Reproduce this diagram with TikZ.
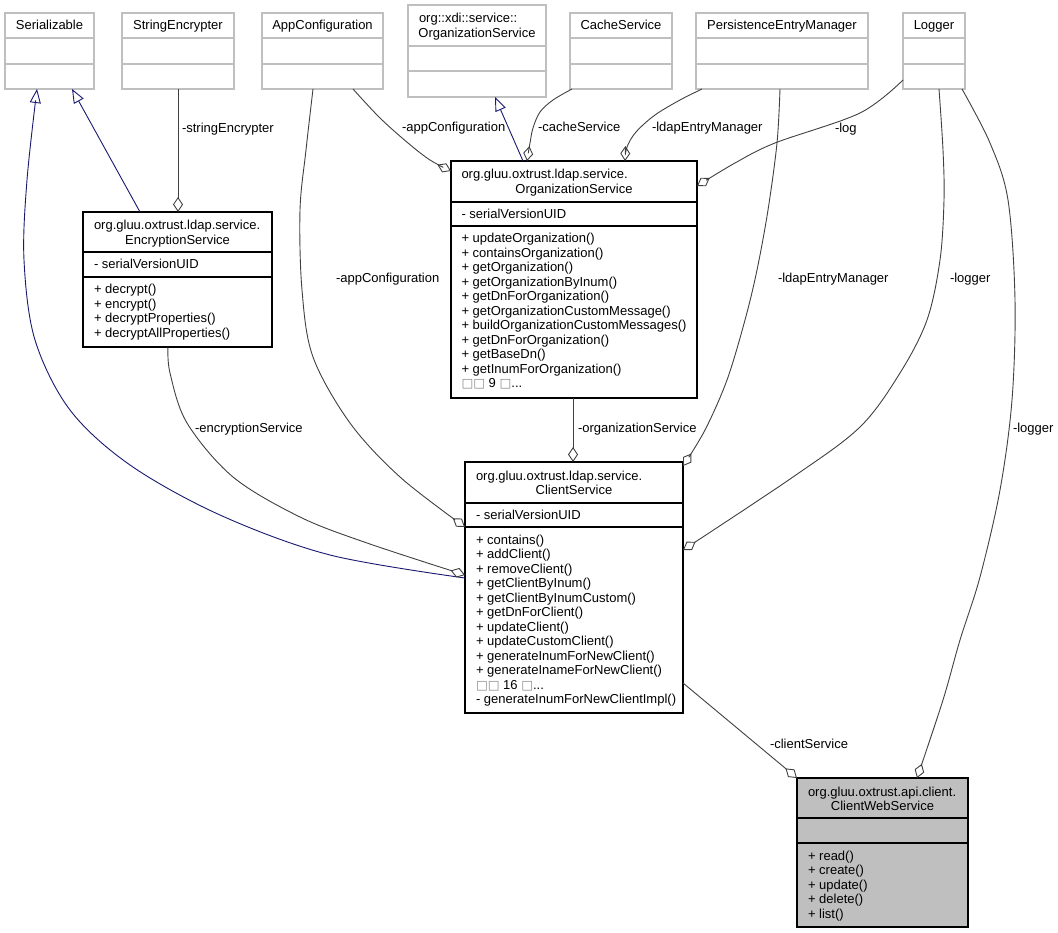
\documentclass[tikz,border=0pt]{standalone}
\usepackage{fontspec}
\setmainfont{Liberation Sans}
\newfontfamily\dejavu{DejaVu Sans}
\usetikzlibrary{arrows.meta}
\definecolor{extgray}{HTML}{BFBFBF}
\definecolor{linegray}{HTML}{404040}
\definecolor{navyline}{HTML}{191970}
\definecolor{cwsfill}{HTML}{BFBFBF}
\definecolor{boxgray}{HTML}{8A8A8A}
\newcommand\fs{\fontsize{13}{14.5}\selectfont}
\newcommand\mbx{{\dejavu\fontsize{12.5}{12.5}\selectfont\textcolor{boxgray}{□}}}
\newcommand\tdots{...}
\tikzset{
  every node/.style={inner sep=0pt, outer sep=0pt},
  txt/.style={font=\fs, text=black},
  lbl/.style={font=\fs, text=black, anchor=base west},
  cbox/.style={draw=black, line width=1.1pt, fill=white, anchor=north west, rectangle},
  ebox/.style={cbox, draw=extgray},
  csep/.style={draw=black, line width=1.1pt},
  esep/.style={draw=extgray, line width=1.1pt},
  agg/.style={draw=linegray, line width=0.9pt, -{Diamond[open, length=15pt, width=10pt]}},
  inh/.style={draw=navyline, line width=0.9pt, -{Triangle[open, length=14pt, width=11pt]}},
  curve/.style={smooth, tension=0.55}
}
\newcommand\extbox[5]{%
  \node[ebox, minimum width=#4pt, minimum height=76pt] (#1) at (#2,#3) {};
  \draw[esep] (#1.west |- 0,38) -- (#1.east |- 0,38);
  \draw[esep] (#1.west |- 0,64) -- (#1.east |- 0,64);
  \node[txt, anchor=base] (#1-h) at (#1.north |- 0,30) {#5};
}
\begin{document}
\begin{tikzpicture}[x=1pt,y=-1pt]
\useasboundingbox (0,0) rectangle (1058,933);

% ---- external classes (top row)
\extbox{ser}{5}{13}{89}{Serializable}
\extbox{senc}{122}{13}{112}{StringEncrypter}
\extbox{appc}{262}{13}{121}{AppConfiguration}
\extbox{cache}{570}{13}{102}{CacheService}
\extbox{pem}{696}{13}{172}{PersistenceEntryManager}
\extbox{logger}{903}{13}{62}{Logger}

\node[ebox, minimum width=138pt, minimum height=92pt] (xdi) at (408,5) {};
\draw[esep] (xdi.west |- 0,46) -- (xdi.east |- 0,46);
\draw[esep] (xdi.west |- 0,71) -- (xdi.east |- 0,71);
\node[txt, anchor=base west] (xdi-h1) at (419,23) {org::xdi::service::};
\node[txt, anchor=base] (xdi-h2) at (477,37.5) {OrganizationService};

% ---- EncryptionService
\node[cbox, minimum width=189pt, minimum height=135pt] (encs) at (83,212) {};
\draw[csep] (encs.west |- 0,252) -- (encs.east |- 0,252);
\draw[csep] (encs.west |- 0,277) -- (encs.east |- 0,277);
\node[txt, anchor=base west] (encs-h1) at (94,230) {org.gluu.oxtrust.ldap.service.};
\node[txt, anchor=base] (encs-h2) at (177.5,244.5) {EncryptionService};
\node[txt, anchor=base west] (encs-a) at (94,268.5) {- serialVersionUID};
\foreach \t [count=\i from 0] in {+ decrypt(), + encrypt(), + decryptProperties(), + decryptAllProperties()}
  \node[txt, anchor=base west] (encs-m\i) at (94,294+14.5*\i) {\t};

% ---- ldap OrganizationService
\node[cbox, minimum width=246pt, minimum height=237pt] (orgs) at (451,161) {};
\draw[csep] (orgs.west |- 0,202) -- (orgs.east |- 0,202);
\draw[csep] (orgs.west |- 0,226) -- (orgs.east |- 0,226);
\node[txt, anchor=base west] (orgs-h1) at (461.5,179) {org.gluu.oxtrust.ldap.service.};
\node[txt, anchor=base] (orgs-h2) at (574,193.5) {OrganizationService};
\node[txt, anchor=base west] (orgs-a) at (461.5,218.5) {- serialVersionUID};
\foreach \t [count=\i from 0] in {+ updateOrganization(), + containsOrganization(), + getOrganization(), + getOrganizationByInum(), + getDnForOrganization(), + getOrganizationCustomMessage(), + buildOrganizationCustomMessages(), + getDnForOrganization(), + getBaseDn(), + getInumForOrganization(), \mbx\mbx{} 9 \mbx\tdots}
  \node[txt, anchor=base west] (orgs-m\i) at (461.5,243+14.5*\i) {\t};

% ---- ClientService
\node[cbox, minimum width=218pt, minimum height=251pt] (cs) at (465,462) {};
\draw[csep] (cs.west |- 0,503) -- (cs.east |- 0,503);
\draw[csep] (cs.west |- 0,527) -- (cs.east |- 0,527);
\node[txt, anchor=base west] (cs-h1) at (476,480) {org.gluu.oxtrust.ldap.service.};
\node[txt, anchor=base] (cs-h2) at (574,494.5) {ClientService};
\node[txt, anchor=base west] (cs-a) at (476,519.5) {- serialVersionUID};
\foreach \t [count=\i from 0] in {+ contains(), + addClient(), + removeClient(), + getClientByInum(), + getClientByInumCustom(), + getDnForClient(), + updateClient(), + updateCustomClient(), + generateInumForNewClient(), + generateInameForNewClient(), \mbx\mbx{} 16 \mbx\tdots, - generateInumForNewClientImpl()}
  \node[txt, anchor=base west] (cs-m\i) at (476,544+14.5*\i) {\t};

% ---- ClientWebService
\node[cbox, fill=cwsfill, minimum width=171pt, minimum height=149pt] (cws) at (797,778) {};
\draw[csep] (cws.west |- 0,818) -- (cws.east |- 0,818);
\draw[csep] (cws.west |- 0,843) -- (cws.east |- 0,843);
\node[txt, anchor=base west] (cws-h1) at (808,796) {org.gluu.oxtrust.api.client.};
\node[txt, anchor=base] (cws-h2) at (882.5,810.5) {ClientWebService};
\foreach \t [count=\i from 0] in {+ read(), + create(), + update(), + delete(), + list()}
  \node[txt, anchor=base west] (cws-m\i) at (808,860+14.5*\i) {\t};

% ---- connector end points on the boxes
\coordinate (e1s) at ([xshift=57pt]encs.north west);
\coordinate (e1e) at ([xshift=67pt]ser.south west);
\coordinate (e2s) at ([yshift=-116pt]cs.north west);
\coordinate (e2e) at ([xshift=32pt]ser.south west);
\coordinate (e3s) at ([xshift=72pt]orgs.north west);
\coordinate (e3e) at ([xshift=87pt]xdi.south west);
\coordinate (a5s) at ([xshift=91pt]appc.south west);
\coordinate (a5e) at ([yshift=-10pt]orgs.north west);
\coordinate (a6s) at ([xshift=2pt]cache.south west);
\coordinate (a6e) at ([xshift=76pt]orgs.north west);
\coordinate (a7s) at ([xshift=6pt]pem.south west);
\coordinate (a7e) at ([xshift=174pt]orgs.north west);
\coordinate (a8s) at ([yshift=-67pt]logger.north west);
\coordinate (a8e) at ([yshift=-25pt]orgs.north east);
\coordinate (a9s) at ([xshift=84pt]pem.south west);
\coordinate (a9e) at ([yshift=-4pt]cs.north east);
\coordinate (a10s) at ([xshift=36pt]logger.south west);
\coordinate (a10e) at ([yshift=-88pt]cs.north east);
\coordinate (a11s) at ([xshift=59pt]logger.south west);
\coordinate (a11e) at ([xshift=120pt]cws.north west);
\coordinate (a12s) at ([yshift=-221pt]cs.north east);
\coordinate (a13s) at ([xshift=122pt]orgs.south west);
\coordinate (a13e) at ([xshift=108pt]cs.north west);
\coordinate (a14s) at ([xshift=51pt]appc.south west);
\coordinate (a14e) at ([yshift=-65pt]cs.north west);
\coordinate (a15s) at ([xshift=85pt]encs.south west);
\coordinate (a15e) at ([yshift=-113pt]cs.north west);

% ---- inheritance
\draw[inh] (e1s) -- (e1e);
\draw[inh] plot[curve] coordinates {(e2s) (330,555) (220,515) (130,465) (70,410) (35,340) (24,260) (27,180) (e2e)};
\draw[inh] (e3s) -- (e3e);

% ---- associations
\draw[agg] (senc.south) -- (senc.south |- encs.north);
\draw[agg] plot[curve] coordinates {(a5s) (380,118) (408,143) (430,160) (a5e)};
\draw[agg] plot[curve] coordinates {(a6s) (553,100) (540,112) (533,128) (530,143) (a6e)};
\draw[agg] plot[curve] coordinates {(a7s) (680,100) (655,115) (636,132) (627,147) (a7e)};
\draw[agg] plot[curve] coordinates {(a8s) (860,113) (775,143) (735,163) (a8e)};
\draw[agg] plot[curve] coordinates {(a9s) (777,143) (768,210) (757,270) (745,320) (727,380) (705,430) (a9e)};
\draw[agg] plot[curve] coordinates {(a10s) (943,150) (944,200) (940,260) (927,320) (900,373) (860,427) (793,477) (a10e)};
\draw[agg] plot[curve] coordinates {(a11s) (990,143) (1008,200) (1015,300) (1012,400) (1000,490) (980,577) (960,640) (943,700) (a11e)};
\draw[agg] (a12s) -- (cws.north west);
\draw[agg] (a13s) -- (a13e);
\draw[agg] plot[curve] coordinates {(a14s) (306,150) (300,210) (302,290) (313,357) (350,423) (400,477) (a14e)};
\draw[agg] plot[curve] coordinates {(a15s) (170,373) (187,423) (233,477) (300,517) (367,543) (a15e)};

% ---- labels
\node[lbl] (l-se) at (182,132.5) {-stringEncrypter};
\node[lbl] (l-ac1) at (402,131.5) {-appConfiguration};
\node[lbl] (l-cache) at (538,131.5) {-cacheService};
\node[lbl] (l-pem1) at (652,131.5) {-ldapEntryManager};
\node[lbl] (l-log) at (835,132.5) {-log};
\node[lbl] (l-ac2) at (336,282.5) {-appConfiguration};
\node[lbl] (l-pem2) at (778,282.5) {-ldapEntryManager};
\node[lbl] (l-lg1) at (950,282.5) {-logger};
\node[lbl] (l-enc) at (195,432.5) {-encryptionService};
\node[lbl] (l-org) at (578,432.5) {-organizationService};
\node[lbl] (l-lg2) at (1013,432.5) {-logger};
\node[lbl] (l-cs) at (770,748.5) {-clientService};
\end{tikzpicture}
\end{document}
